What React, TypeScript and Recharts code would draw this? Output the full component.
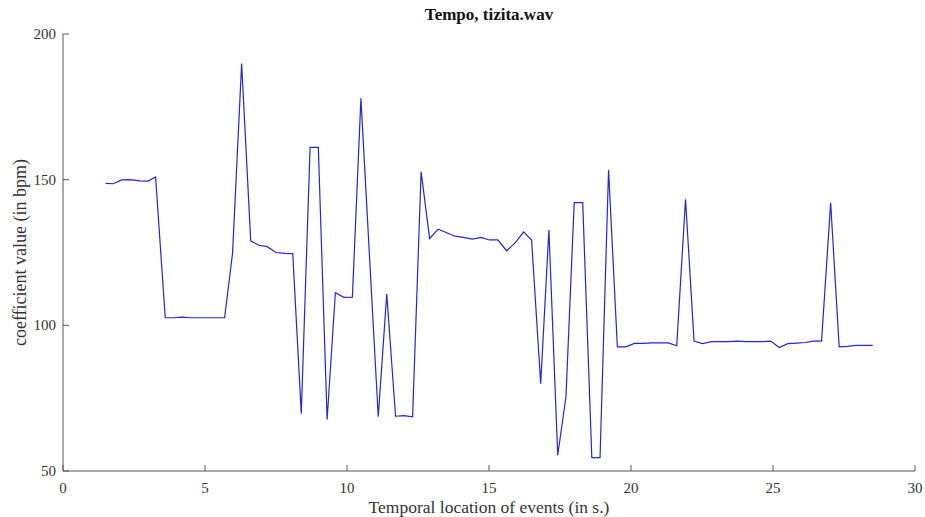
import React from 'react';
import { LineChart, Line, XAxis, YAxis } from 'recharts';

// event times (s) and tempo coefficient (bpm)
const times = [
  1.5, 1.77, 2.07, 2.36, 2.71, 3.0, 3.26, 3.6, 3.9, 4.18, 4.5, 4.8, 5.1, 5.4, 5.69,
  5.97, 6.29, 6.61, 6.9, 7.19, 7.5, 7.82, 8.09, 8.39, 8.7, 8.99, 9.3, 9.59, 9.89,
  10.19, 10.49, 11.1, 11.4, 11.71, 12.01, 12.31, 12.61, 12.91, 13.21, 13.51, 13.8,
  14.1, 14.41, 14.72, 15.01, 15.31, 15.62, 15.92, 16.22, 16.5, 16.82, 17.11, 17.42,
  17.71, 18.0, 18.3, 18.62, 18.91, 19.21, 19.52, 19.82, 20.12, 20.43, 20.72, 21.02,
  21.31, 21.61, 21.92, 22.22, 22.52, 22.84, 23.13, 23.45, 23.74, 24.04, 24.33,
  24.64, 24.92, 25.22, 25.52, 25.83, 26.13, 26.42, 26.71, 27.03, 27.33, 27.63,
  27.92, 28.22, 28.51,
];

const tempo = [
  148.7, 148.6, 149.9, 150.0, 149.6, 149.5, 150.9, 102.6, 102.6, 102.8, 102.6, 102.6, 102.6, 102.6, 102.6,
  124.7, 189.9, 129.0, 127.5, 127.0, 125.0, 124.7, 124.6, 69.7, 161.1, 161.1, 67.7, 111.2, 109.6,
  109.7, 177.9, 68.6, 110.7, 68.8, 69.0, 68.6, 152.7, 129.8, 133.0, 131.8, 130.6,
  130.2, 129.6, 130.2, 129.3, 129.3, 125.6, 128.3, 132.1, 129.3, 80.0, 132.7, 55.4,
  75.5, 142.1, 142.1, 54.6, 54.6, 153.3, 92.6, 92.6, 93.8, 93.8, 94.0, 94.0,
  94.0, 93.0, 143.3, 94.6, 93.7, 94.4, 94.4, 94.4, 94.6, 94.4, 94.4,
  94.4, 94.6, 92.4, 93.7, 93.9, 94.1, 94.6, 94.6, 142.1, 92.6, 92.8,
  93.1, 93.1, 93.1,
];

const xTicks = [0, 5, 10, 15, 20, 25, 30];
const yTicks = [50, 100, 150, 200];

const data = times.map((t, i) => ({ t, bpm: tempo[i] }));

const font = '"Liberation Serif", "Times New Roman", serif';
const axisColor = '#555';
const textColor = '#333';

// matlab style: tick marks point into the plot
function XTick(props: any) {
  const { x, y, payload } = props;
  return (
    <g>
      <line x1={x} x2={x} y1={y} y2={y - 6} stroke={axisColor} />
      <text x={x} y={y + 22} textAnchor="middle" fontSize={15} fontFamily={font} fill={textColor}>
        {payload.value}
      </text>
    </g>
  );
}

function YTick(props: any) {
  const { x, y, payload } = props;
  return (
    <g>
      <line x1={x} x2={x + 6} y1={y} y2={y} stroke={axisColor} />
      <text x={x - 7} y={y + 5} textAnchor="end" fontSize={15} fontFamily={font} fill={textColor}>
        {payload.value}
      </text>
    </g>
  );
}

export default function App() {
  return (
    <div style={{ position: 'absolute', left: 0, top: 0, width: 925, height: 517, background: '#fff' }}>
      <div
        style={{
          position: 'absolute',
          left: 63,
          width: 852,
          top: 5,
          textAlign: 'center',
          fontFamily: font,
          fontWeight: 'bold',
          fontSize: 17,
          lineHeight: '19px',
          color: '#111',
        }}
      >
        Tempo, tizita.wav
      </div>
      <LineChart width={925} height={517} data={data} margin={{ top: 34, right: 10, bottom: 0, left: 3 }}>
        <XAxis
          dataKey="t"
          type="number"
          domain={[0, 30]}
          ticks={xTicks}
          height={46}
          tickSize={0}
          tickMargin={0}
          tickLine={false}
          stroke={axisColor}
          tick={<XTick />}
          label={{
            value: 'Temporal location of events (in s.)',
            position: 'insideBottom',
            offset: 4,
            style: { fontSize: 17.5, fill: textColor, fontFamily: font },
          }}
        />
        <YAxis
          type="number"
          domain={[50, 200]}
          ticks={yTicks}
          width={60}
          tickSize={0}
          tickMargin={0}
          tickLine={false}
          stroke={axisColor}
          tick={<YTick />}
          label={{
            value: 'coefficient value (in bpm)',
            angle: -90,
            position: 'insideLeft',
            offset: 17,
            style: { fontSize: 18, fill: textColor, fontFamily: font, textAnchor: 'middle' },
          }}
        />
        <Line
          type="linear"
          dataKey="bpm"
          stroke="#2424d8"
          strokeWidth={1.2}
          dot={false}
          isAnimationActive={false}
        />
      </LineChart>
    </div>
  );
}
